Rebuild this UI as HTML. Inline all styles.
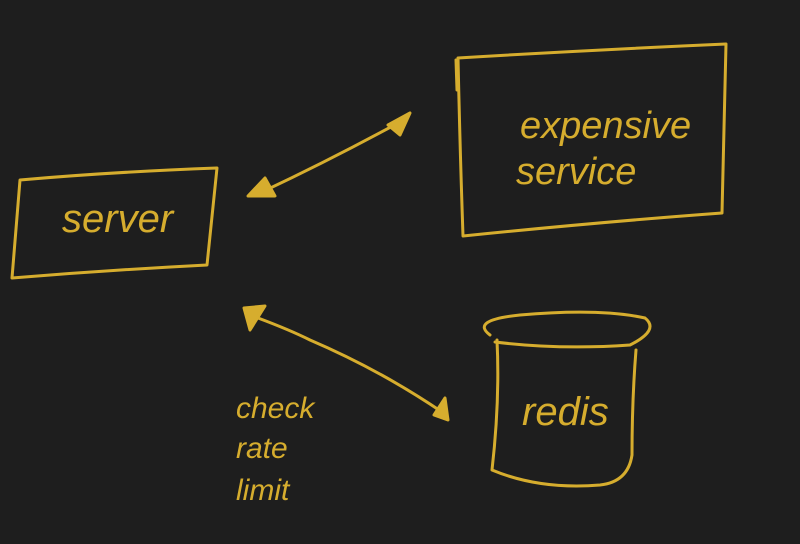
<!DOCTYPE html>
<html><head><meta charset="utf-8"><style>
html,body{margin:0;padding:0;background:#1e1e1e;}
svg{display:block}
text{font-family:"Liberation Sans",sans-serif;fill:#d6ad2e;font-style:italic}
</style></head><body>
<svg width="800" height="544" viewBox="0 0 800 544" xmlns="http://www.w3.org/2000/svg">
<rect width="800" height="544" fill="#1e1e1e"/>
<g fill="none" stroke="#d6ad2e" stroke-width="3" stroke-linecap="round" stroke-linejoin="round">
<path d="M20 180 Q110 172 217 168 Q212 215 207 265 Q110 270 12 278 Q16 230 20 180 Z"/>
<path d="M458 58 Q590 50 726 44 Q724 135 722 213 Q600 222 463 236 Q460 150 458 58 Z"/>
<path d="M456 60 L457 90"/>
<path d="M490 335 Q470 320 520 315 Q600 308 645 318 Q660 330 630 345 Q560 350 495 342"/>
<path d="M497 340 Q500 400 492 470 Q540 490 600 485 Q628 482 632 455 Q632 400 636 350"/>
<path d="M262 192 Q330 160 400 122"/>
<path d="M258 318 Q290 330 310 340 Q380 370 442 412"/>
</g>
<g fill="#d6ad2e" stroke="#d6ad2e" stroke-width="3" stroke-linejoin="round">
<path d="M248 196 L265 178 L275 196 Z M388 125 L410 113 L400 135 Z"/>
<path d="M244 308 L265 306 L250 330 Z M434 415 L445 398 L448 420 Z"/>
</g>
<text x="62" y="232" font-size="40">server</text>
<text x="520" y="138" font-size="38">expensive</text>
<text x="516" y="184" font-size="38">service</text>
<text x="522" y="425" font-size="40">redis</text>
<text x="236" y="418" font-size="30">check</text>
<text x="236" y="458" font-size="30">rate</text>
<text x="236" y="500" font-size="30">limit</text>
</svg>
</body></html>
